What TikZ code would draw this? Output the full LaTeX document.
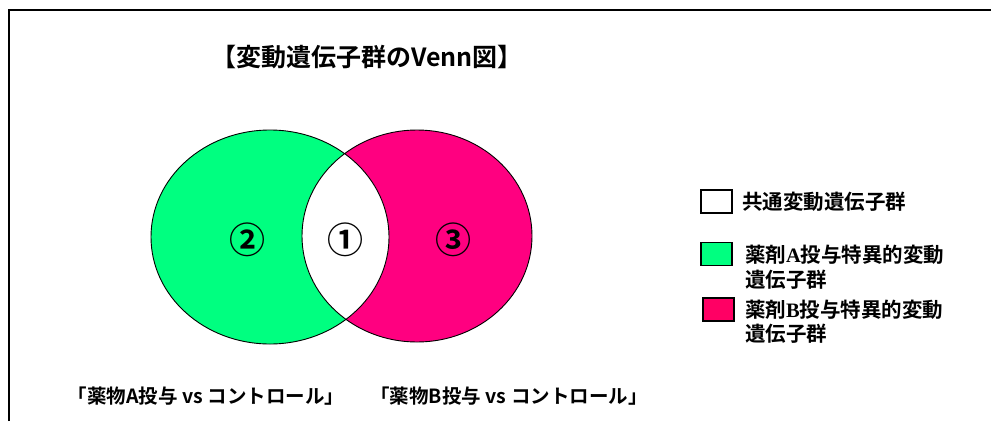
\documentclass[tikz,border=0pt]{standalone}
\usepackage{fontspec}
\newfontfamily\jp{Noto Sans CJK JP}[BoldFont={* Bold}]
\newfontfamily\serifab{Liberation Serif}
\definecolor{vgreen}{RGB}{0,255,128}
\definecolor{vpink}{RGB}{255,0,128}
\definecolor{lpink}{RGB}{255,0,100}
\begin{document}
\begin{tikzpicture}[x=1pt,y=-1pt,
  every node/.style={inner sep=0pt, outer sep=0pt},
  titletext/.style={font=\jp\bfseries\fontsize{25}{29}\selectfont},
  numtext/.style={font=\jp\bfseries\fontsize{36}{40}\selectfont},
  legtext/.style={font=\jp\bfseries\fontsize{20.5}{25}\selectfont, align=left},
  captext/.style={font=\jp\bfseries\fontsize{19.5}{24}\selectfont},
  legbox/.style={draw=black, line width=1.3pt, minimum width=31pt, minimum height=23pt},
  outline/.style={draw=black, line width=0.9pt}]
\useasboundingbox (0,0) rectangle (991,421);
\fill[white] (0,0) rectangle (991,421);
\draw[line width=2pt] (9,421) -- (9,10) -- (991,10);
% Venn
\fill[vgreen] (270,237) ellipse [x radius=119pt, y radius=107pt];
\fill[vpink] (417,236) ellipse [x radius=115pt, y radius=106pt];
\begin{scope}
  \clip (270,237) ellipse [x radius=119pt, y radius=107pt];
  \fill[white] (417,236) ellipse [x radius=115pt, y radius=106pt];
\end{scope}
\draw[outline] (270,237) ellipse [x radius=119pt, y radius=107pt];
\draw[outline] (417,236) ellipse [x radius=115pt, y radius=106pt];
% labels
\node[titletext] (title) at (367,57) {【変動遺伝子群のVenn図】};
\node[numtext] (n2) at (247,240) {②};
\node[numtext] (n1) at (345,240) {①};
\node[numtext] (n3) at (453,240) {③};
% legend
\node[legbox, fill=white] (k1) at (716.5,201.5) {};
\node[legtext, anchor=west] (t1) at (742,202) {共通変動遺伝子群};
\node[legbox, fill=vgreen] (k2) at (716.5,254) {};
\node[legtext, anchor=west] (t2a) at (745,255) {薬剤{\serifab A}投与特異的変動};
\node[legtext, anchor=west] (t2b) at (745,280) {遺伝子群};
\node[legbox, fill=lpink] (k3) at (718.5,309.5) {};
\node[legtext, anchor=west] (t3a) at (745,310) {薬剤{\serifab B}投与特異的変動};
\node[legtext, anchor=west] (t3b) at (745,334) {遺伝子群};
% captions
\node[captext] (c1) at (206,396) {「薬物A投与 vs コントロール」};
\node[captext] (c2) at (509,396) {「薬物B投与 vs コントロール」};
\end{tikzpicture}
\end{document}
